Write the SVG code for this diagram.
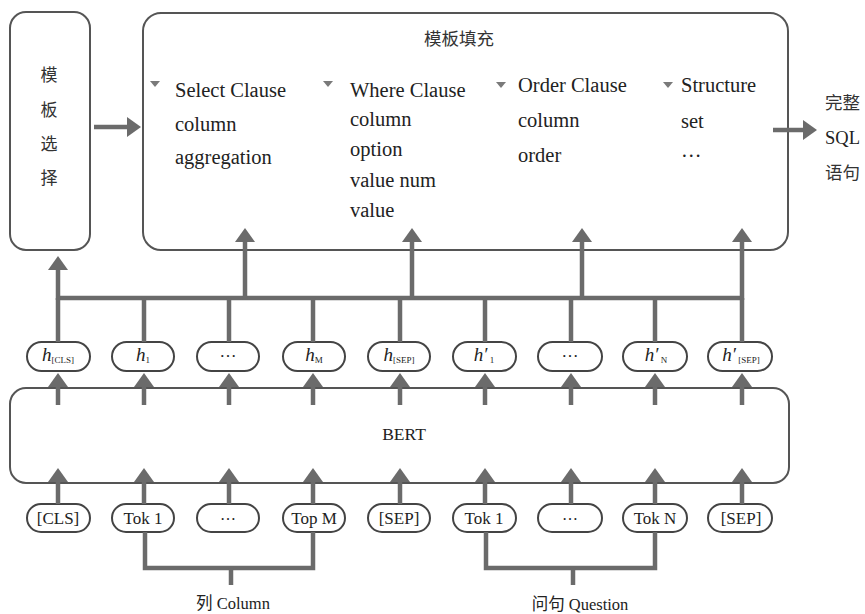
<svg xmlns="http://www.w3.org/2000/svg" width="865" height="614" viewBox="0 0 865 614">
<style>
.box{fill:none;stroke:#555;stroke-width:2}
.pill{fill:#fff;stroke:#444;stroke-width:2}
.ar{fill:none;stroke:#6b6b6b;stroke-width:4.5;stroke-linecap:butt}
.t{font-family:"Liberation Serif","Times New Roman","DejaVu Serif","Noto Sans CJK SC",serif;fill:#222}
.cn{font-family:"Noto Sans CJK SC","Liberation Serif",serif;fill:#333}
.tri{fill:#7a7a7a}
</style>
<defs>
<marker id="ah" viewBox="0 0 14 20" refX="0" refY="10" markerWidth="14" markerHeight="20" markerUnits="userSpaceOnUse" orient="auto">
<path d="M0,0 L14,10 L0,20 z" fill="#6b6b6b"/>
</marker>
</defs>
<rect width="865" height="614" fill="#fff"/>

<g id="template-select">
<rect class="box" x="10" y="12" width="80" height="238" rx="16"/>
<text class="cn" font-size="17" text-anchor="middle" x="49" y="81">模</text>
<text class="cn" font-size="17" text-anchor="middle" x="49" y="116">板</text>
<text class="cn" font-size="17" text-anchor="middle" x="49" y="150">选</text>
<text class="cn" font-size="17" text-anchor="middle" x="49" y="184">择</text>
</g>

<g id="template-fill">
<rect class="box" x="143" y="13" width="645" height="237" rx="18"/>
<text class="cn" font-size="17.5" text-anchor="middle" x="459" y="45">模板填充</text>
<path class="tri" d="M150,81 h10 l-5,6 z"/>
<text class="t" font-size="20.5" x="175" y="97">Select Clause</text>
<text class="t" font-size="20.5" x="175" y="131">column</text>
<text class="t" font-size="20.5" x="175" y="164">aggregation</text>
<path class="tri" d="M323,81 h10 l-5,6 z"/>
<text class="t" font-size="20.5" x="350" y="97">Where Clause</text>
<text class="t" font-size="20.5" x="350" y="126">column</text>
<text class="t" font-size="20.5" x="350" y="156">option</text>
<text class="t" font-size="20.5" x="350" y="187">value num</text>
<text class="t" font-size="20.5" x="350" y="217">value</text>
<path class="tri" d="M496,82 h10 l-5,6 z"/>
<text class="t" font-size="20.5" x="518" y="92">Order Clause</text>
<text class="t" font-size="20.5" x="518" y="127">column</text>
<text class="t" font-size="20.5" x="518" y="162">order</text>
<path class="tri" d="M663,82 h10 l-5,6 z"/>
<text class="t" font-size="20.5" x="681" y="92">Structure</text>
<text class="t" font-size="20.5" x="681" y="128">set</text>
<text class="t" font-size="20.5" x="681" y="157">…</text>
</g>

<g id="output">
<text class="cn" font-size="17.5" x="825" y="109">完整</text>
<text class="t" font-size="18.5" x="825" y="144">SQL</text>
<text class="cn" font-size="17.5" x="825" y="179">语句</text>
</g>

<g id="bert">
<rect class="box" x="10" y="388" width="779" height="95" rx="16"/>
<text class="t" font-size="17.5" text-anchor="middle" x="404" y="440">BERT</text>
</g>

<g id="h-nodes">
<g id="h-cls"><rect class="pill" x="27" y="342" width="63" height="29" rx="14.5"/><text class="t" x="58" y="361" text-anchor="middle"><tspan font-size="19" font-style="italic">h</tspan><tspan font-size="9" dy="2">[CLS]</tspan></text></g>
<g id="h-1"><rect class="pill" x="112" y="342" width="62" height="29" rx="14.5"/><text class="t" x="143" y="361" text-anchor="middle"><tspan font-size="19" font-style="italic">h</tspan><tspan font-size="9" dy="2">1</tspan></text></g>
<g id="h-dots"><rect class="pill" x="197" y="342" width="62" height="29" rx="14.5"/><text class="t" x="228" y="357" text-anchor="middle" font-size="17">…</text></g>
<g id="h-m"><rect class="pill" x="283" y="342" width="62" height="29" rx="14.5"/><text class="t" x="314" y="361" text-anchor="middle"><tspan font-size="19" font-style="italic">h</tspan><tspan font-size="9" dy="2">M</tspan></text></g>
<g id="h-sep"><rect class="pill" x="368" y="342" width="62" height="29" rx="14.5"/><text class="t" x="399" y="361" text-anchor="middle"><tspan font-size="19" font-style="italic">h</tspan><tspan font-size="9" dy="2">[SEP]</tspan></text></g>
<g id="hp-1"><rect class="pill" x="453" y="342" width="63" height="29" rx="14.5"/><text class="t" x="484" y="361" text-anchor="middle"><tspan font-size="19" font-style="italic">h′</tspan><tspan font-size="9" dy="2"> 1</tspan></text></g>
<g id="hp-dots"><rect class="pill" x="538" y="342" width="64" height="29" rx="14.5"/><text class="t" x="570" y="357" text-anchor="middle" font-size="17">…</text></g>
<g id="hp-n"><rect class="pill" x="623" y="342" width="64" height="29" rx="14.5"/><text class="t" x="656" y="361" text-anchor="middle"><tspan font-size="19" font-style="italic">h′</tspan><tspan font-size="9" dy="2"> N</tspan></text></g>
<g id="hp-sep"><rect class="pill" x="708" y="342" width="64" height="29" rx="14.5"/><text class="t" x="741" y="361" text-anchor="middle"><tspan font-size="19" font-style="italic">h′</tspan><tspan font-size="9" dy="2"> [SEP]</tspan></text></g>
</g>

<g id="tokens">
<g id="tok-cls"><rect class="pill" x="27" y="504" width="63" height="28" rx="14"/><text class="t" x="58" y="524" text-anchor="middle" font-size="17">[CLS]</text></g>
<g id="tok-1"><rect class="pill" x="112" y="504" width="62" height="28" rx="14"/><text class="t" x="143" y="524" text-anchor="middle" font-size="17">Tok 1</text></g>
<g id="tok-dots"><rect class="pill" x="197" y="504" width="62" height="28" rx="14"/><text class="t" x="228" y="520" text-anchor="middle" font-size="16">…</text></g>
<g id="tok-m"><rect class="pill" x="283" y="504" width="62" height="28" rx="14"/><text class="t" x="314" y="524" text-anchor="middle" font-size="17">Top M</text></g>
<g id="tok-sep"><rect class="pill" x="368" y="504" width="62" height="28" rx="14"/><text class="t" x="399" y="524" text-anchor="middle" font-size="17">[SEP]</text></g>
<g id="qtok-1"><rect class="pill" x="453" y="504" width="63" height="28" rx="14"/><text class="t" x="484" y="524" text-anchor="middle" font-size="17">Tok 1</text></g>
<g id="qtok-dots"><rect class="pill" x="538" y="504" width="64" height="28" rx="14"/><text class="t" x="570" y="520" text-anchor="middle" font-size="16">…</text></g>
<g id="qtok-n"><rect class="pill" x="623" y="504" width="64" height="28" rx="14"/><text class="t" x="655" y="524" text-anchor="middle" font-size="17">Tok N</text></g>
<g id="qtok-sep"><rect class="pill" x="708" y="504" width="64" height="28" rx="14"/><text class="t" x="741" y="524" text-anchor="middle" font-size="17">[SEP]</text></g>
</g>

<g id="labels">
<text class="t" font-size="16.5" text-anchor="middle" x="233" y="609"><tspan font-family="Noto Sans CJK SC, sans-serif">列</tspan> Column</text>
<text class="t" font-size="16.5" text-anchor="middle" x="580" y="610"><tspan font-family="Noto Sans CJK SC, sans-serif">问句</tspan> Question</text>
</g>

<g id="connectors">
<line class="ar" x1="94" y1="127" x2="127" y2="127" marker-end="url(#ah)"/>
<line class="ar" x1="773" y1="130" x2="803" y2="130" marker-end="url(#ah)"/>
<line class="ar" x1="56" y1="298" x2="744" y2="298"/>
<line class="ar" x1="58" y1="300" x2="58" y2="270" marker-end="url(#ah)"/>
<line class="ar" x1="245" y1="300" x2="245" y2="242" marker-end="url(#ah)"/>
<line class="ar" x1="412" y1="300" x2="412" y2="242" marker-end="url(#ah)"/>
<line class="ar" x1="582" y1="300" x2="582" y2="242" marker-end="url(#ah)"/>
<line class="ar" x1="742" y1="300" x2="742" y2="242" marker-end="url(#ah)"/>
<g>
<line class="ar" x1="58" y1="298" x2="58" y2="342"/>
<line class="ar" x1="144" y1="298" x2="144" y2="342"/>
<line class="ar" x1="229" y1="298" x2="229" y2="342"/>
<line class="ar" x1="313" y1="298" x2="313" y2="342"/>
<line class="ar" x1="400" y1="298" x2="400" y2="342"/>
<line class="ar" x1="485" y1="298" x2="485" y2="342"/>
<line class="ar" x1="571" y1="298" x2="571" y2="342"/>
<line class="ar" x1="655" y1="298" x2="655" y2="342"/>
<line class="ar" x1="742" y1="298" x2="742" y2="342"/>
</g>
<g>
<line class="ar" x1="58" y1="405" x2="58" y2="387" marker-end="url(#ah)"/>
<line class="ar" x1="144" y1="405" x2="144" y2="387" marker-end="url(#ah)"/>
<line class="ar" x1="229" y1="405" x2="229" y2="387" marker-end="url(#ah)"/>
<line class="ar" x1="313" y1="405" x2="313" y2="387" marker-end="url(#ah)"/>
<line class="ar" x1="400" y1="405" x2="400" y2="387" marker-end="url(#ah)"/>
<line class="ar" x1="485" y1="405" x2="485" y2="387" marker-end="url(#ah)"/>
<line class="ar" x1="571" y1="405" x2="571" y2="387" marker-end="url(#ah)"/>
<line class="ar" x1="655" y1="405" x2="655" y2="387" marker-end="url(#ah)"/>
<line class="ar" x1="742" y1="405" x2="742" y2="387" marker-end="url(#ah)"/>
</g>
<g>
<line class="ar" x1="58" y1="504" x2="58" y2="482" marker-end="url(#ah)"/>
<line class="ar" x1="144" y1="504" x2="144" y2="482" marker-end="url(#ah)"/>
<line class="ar" x1="229" y1="504" x2="229" y2="482" marker-end="url(#ah)"/>
<line class="ar" x1="313" y1="504" x2="313" y2="482" marker-end="url(#ah)"/>
<line class="ar" x1="400" y1="504" x2="400" y2="482" marker-end="url(#ah)"/>
<line class="ar" x1="485" y1="504" x2="485" y2="482" marker-end="url(#ah)"/>
<line class="ar" x1="571" y1="504" x2="571" y2="482" marker-end="url(#ah)"/>
<line class="ar" x1="655" y1="504" x2="655" y2="482" marker-end="url(#ah)"/>
<line class="ar" x1="742" y1="504" x2="742" y2="482" marker-end="url(#ah)"/>
</g>
<path class="ar" d="M145,532 V568 H313 V532"/>
<line class="ar" x1="231" y1="568" x2="231" y2="585"/>
<path class="ar" d="M486,532 V568 H655 V532"/>
<line class="ar" x1="573" y1="568" x2="573" y2="585"/>
</g>
</svg>
